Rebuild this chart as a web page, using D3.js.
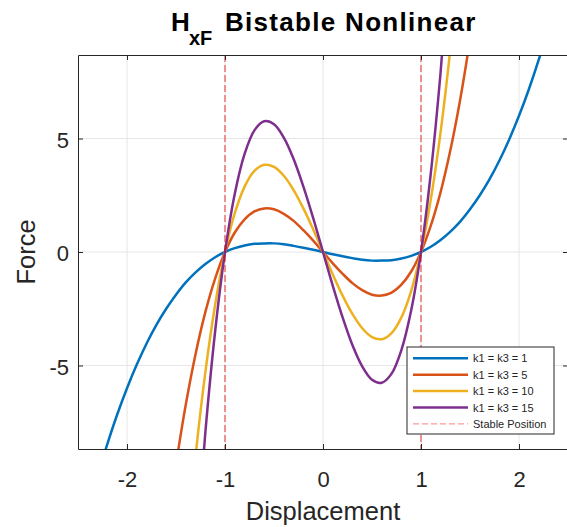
<!DOCTYPE html>
<html>
<head>
<meta charset="utf-8">
<script src="https://cdn.jsdelivr.net/npm/d3@7"></script>
<style>
  body { margin: 0; background: #fff; }
  svg { display: block; font-family: "Liberation Sans", Arial, sans-serif; }
</style>
</head>
<body>
<svg id="chart" width="567" height="527"></svg>
<script>
// displacement samples
const xs = [-2.5, -2.4, -2.3, -2.2, -2.1, -2.0, -1.9, -1.8, -1.7, -1.6, -1.5, -1.4, -1.3, -1.2, -1.1, -1.0,
  -0.9, -0.8, -0.7, -0.6, -0.5, -0.4, -0.3, -0.2, -0.1, 0,
  0.1, 0.2, 0.3, 0.4, 0.5, 0.6, 0.7, 0.8, 0.9, 1.0,
  1.1, 1.2, 1.3, 1.4, 1.5, 1.6, 1.7, 1.8, 1.9, 2.0, 2.1, 2.2, 2.3, 2.4, 2.5];

// force
const force1 = [-13.13, -11.42, -9.87, -8.45, -7.16, -6.0, -4.96, -4.03, -3.21, -2.5, -1.88, -1.34, -0.9, -0.53, -0.23, 0,
  0.17, 0.29, 0.36, 0.38, 0.38, 0.34, 0.27, 0.19, 0.1, 0,
  -0.1, -0.19, -0.27, -0.34, -0.38, -0.38, -0.36, -0.29, -0.17, 0,
  0.23, 0.53, 0.9, 1.34, 1.88, 2.5, 3.21, 4.03, 4.96, 6.0, 7.16, 8.45, 9.87, 11.42, 13.13];
const force5 = [-65.6, -57.1, -49.3, -42.2, -35.8, -30.0, -24.8, -20.2, -16.1, -12.5, -9.38, -6.72, -4.49, -2.64, -1.16, 0,
  0.86, 1.44, 1.79, 1.92, 1.88, 1.68, 1.37, 0.96, 0.5, 0,
  -0.5, -0.96, -1.37, -1.68, -1.88, -1.92, -1.79, -1.44, -0.86, 0,
  1.16, 2.64, 4.49, 6.72, 9.38, 12.5, 16.1, 20.2, 24.8, 30.0, 35.8, 42.2, 49.3, 57.1, 65.6];
const force10 = [-131.3, -114.2, -98.7, -84.5, -71.6, -60.0, -49.6, -40.3, -32.1, -25.0, -18.75, -13.44, -8.97, -5.28, -2.31, 0,
  1.71, 2.88, 3.57, 3.84, 3.75, 3.36, 2.73, 1.92, 0.99, 0,
  -0.99, -1.92, -2.73, -3.36, -3.75, -3.84, -3.57, -2.88, -1.71, 0,
  2.31, 5.28, 8.97, 13.44, 18.75, 25.0, 32.1, 40.3, 49.6, 60.0, 71.6, 84.5, 98.7, 114.2, 131.3];
const force15 = [-196.9, -171.4, -148.0, -126.7, -107.4, -90.0, -74.4, -60.5, -48.2, -37.4, -28.1, -20.16, -13.46, -7.92, -3.47, 0,
  2.57, 4.32, 5.36, 5.76, 5.63, 5.04, 4.1, 2.88, 1.49, 0,
  -1.49, -2.88, -4.1, -5.04, -5.63, -5.76, -5.36, -4.32, -2.57, 0,
  3.47, 7.92, 13.46, 20.16, 28.1, 37.4, 48.2, 60.5, 74.4, 90.0, 107.4, 126.7, 148.0, 171.4, 196.9];

const seriesNames = ["k1 = k3 = 1", "k1 = k3 = 5", "k1 = k3 = 10", "k1 = k3 = 15"];
const seriesColors = ["#0072BD", "#D95319", "#EDB120", "#7E2F8E"];
const stablePositions = [-1, 1];
const xTicks = [-2, -1, 0, 1, 2];
const yTicks = [-5, 0, 5];

const margin = { top: 55, left: 78 };
const plotW = 490, plotH = 394;

const svg = d3.select("#chart");
const g = svg.append("g").attr("transform", `translate(${margin.left},${margin.top})`);

const x = d3.scaleLinear().domain([-2.5, 2.5]).range([0, plotW]);
const y = d3.scaleLinear().domain([-8.68, 8.68]).range([plotH, 0]);

// grid
g.append("g").selectAll("line").data(xTicks).join("line")
  .attr("x1", d => x(d)).attr("x2", d => x(d)).attr("y1", 0).attr("y2", plotH)
  .attr("stroke", "#e6e6e6").attr("stroke-width", 1);
g.append("g").selectAll("line").data(yTicks).join("line")
  .attr("y1", d => y(d)).attr("y2", d => y(d)).attr("x1", 0).attr("x2", plotW)
  .attr("stroke", "#e6e6e6").attr("stroke-width", 1);

g.append("clipPath").attr("id", "clip")
  .append("rect").attr("width", plotW).attr("height", plotH);

const line = d3.line()
  .x(d => x(d[0]))
  .y(d => y(d[1]))
  .curve(d3.curveCatmullRom);

const allSeries = [force1, force5, force10, force15];
g.append("g").attr("clip-path", "url(#clip)")
  .selectAll("path").data(allSeries).join("path")
  .attr("fill", "none")
  .attr("stroke", (d, i) => seriesColors[i])
  .attr("stroke-width", 2.5)
  .attr("d", d => line(xs.map((v, i) => [v, d[i]])));

// stable position lines
g.append("g").selectAll("line").data(stablePositions).join("line")
  .attr("x1", d => x(d)).attr("x2", d => x(d)).attr("y1", 0).attr("y2", plotH)
  .attr("stroke", "#e00000").attr("stroke-opacity", 0.8)
  .attr("stroke-width", 1).attr("stroke-dasharray", "7,3");

// axes (MATLAB style box, inward ticks)
const axisColor = "#262626";
const fmt = d => String(d); // plain hyphen minus like MATLAB
const xAxis = g.append("g").attr("transform", `translate(0,${plotH})`)
  .call(d3.axisBottom(x).tickValues(xTicks).tickFormat(fmt).tickSizeInner(-5).tickSizeOuter(0).tickPadding(22));
const yAxis = g.append("g")
  .call(d3.axisLeft(y).tickValues(yTicks).tickFormat(fmt).tickSizeInner(-5).tickSizeOuter(0).tickPadding(9));
g.append("g")
  .call(d3.axisTop(x).tickValues(xTicks).tickSizeInner(-5).tickSizeOuter(0).tickFormat(""));
g.append("g").attr("transform", `translate(${plotW},0)`)
  .call(d3.axisRight(y).tickValues(yTicks).tickSizeInner(-5).tickSizeOuter(0).tickFormat(""));

g.selectAll(".domain").attr("stroke", axisColor);
g.selectAll(".tick line").attr("stroke", axisColor);
[xAxis, yAxis].forEach(a => a.selectAll("text")
  .attr("fill", axisColor).style("font-size", "22px")
  .style("font-family", "Liberation Sans, Arial, sans-serif"));
yAxis.selectAll("text").attr("dy", "0.4em");

// labels
svg.append("text")
  .attr("x", margin.left + plotW / 2).attr("y", 520)
  .attr("text-anchor", "middle").attr("fill", axisColor)
  .style("font-size", "25.5px").text("Displacement");
svg.append("text")
  .attr("transform", `translate(35,${margin.top + plotH / 2}) rotate(-90)`)
  .attr("text-anchor", "middle").attr("fill", axisColor)
  .style("font-size", "25.5px").text("Force");

const title = svg.append("text")
  .attr("y", 31).attr("fill", "#000")
  .style("font-size", "26px").style("font-weight", "bold");
title.append("tspan").attr("x", 171).text("H");
title.append("tspan").attr("x", 189).attr("dy", 14).style("font-size", "20px").text("xF");
title.append("tspan").attr("x", 225).attr("dy", -14).style("letter-spacing", "1.3px").text("Bistable Nonlinear");

// legend
const legend = svg.append("g").attr("transform", "translate(407,347)");
legend.append("rect").attr("width", 147).attr("height", 87)
  .attr("fill", "#fff").attr("stroke", axisColor).attr("stroke-width", 1);
const legendItems = seriesNames.map((n, i) => ({ name: n, color: seriesColors[i], dash: null }))
  .concat([{ name: "Stable Position", color: "#ff0000", dash: "6,3" }]);
const row = legend.selectAll("g").data(legendItems).join("g")
  .attr("transform", (d, i) => `translate(0,${11.3 + i * 16.4})`);
row.append("line")
  .attr("x1", 6).attr("x2", 61)
  .attr("stroke", d => d.color)
  .attr("stroke-width", d => d.dash ? 1 : 2.5)
  .attr("stroke-opacity", d => d.dash ? 0.5 : 1)
  .attr("stroke-dasharray", d => d.dash);
row.append("text")
  .attr("x", 66).attr("y", 4)
  .attr("fill", axisColor).style("font-size", "11px")
  .text(d => d.name);
</script>
</body>
</html>
